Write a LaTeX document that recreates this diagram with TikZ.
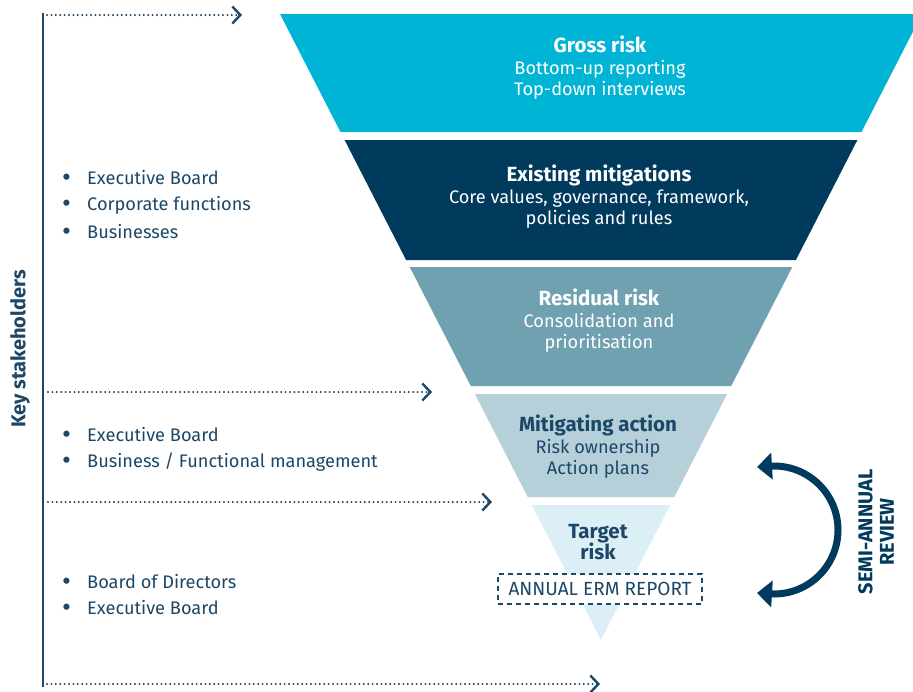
\documentclass[tikz,border=0pt]{standalone}
\usepackage{fontspec}
\setmainfont{Fira Sans}
\usetikzlibrary{arrows.meta}
\definecolor{cyanR}{HTML}{00B4D6}
\definecolor{navyR}{HTML}{003A5C}
\definecolor{tealR}{HTML}{6FA1B1}
\definecolor{paleR}{HTML}{B6D0DA}
\definecolor{lightR}{HTML}{DDEFF6}
\definecolor{inkR}{HTML}{1D4767}
\tikzset{
  ftext/.style={align=center, font=\fontsize{18.2}{21.5}\selectfont, inner sep=0pt},
  item/.style={anchor=west, text=inkR, font=\fontsize{18.2}{20}\selectfont, inner sep=0pt},
  dotarrow/.style={draw=inkR, line width=2.2pt, line cap=round, dash pattern=on 0pt off 4.4pt,
    -{Straight Barb[length=8pt,width=17pt,line width=2.4pt,line cap=butt]}},
}
\newcommand{\bul}{\makebox[25pt][l]{\raisebox{-0.12em}{\scalebox{1.5}{\textbullet}}}}
\newcommand{\hd}[1]{{\fontsize{20.5}{21.5}\selectfont\bfseries #1}}
\begin{document}
\begin{tikzpicture}[x=1pt,y=-1pt]
\useasboundingbox (0,0) rectangle (913,691);
\clip (0,0) rectangle (913,691);
% funnel
\fill[cyanR]  (280,14) -- (922,14) -- (861.5,132) -- (340.5,132) -- cycle;
\fill[navyR]  (344.6,140) -- (857.4,140) -- (795.9,260) -- (406.1,260) -- cycle;
\fill[tealR]  (409.7,267) -- (792.3,267) -- (731.2,386) -- (470.8,386) -- cycle;
\fill[paleR]  (474.9,394) -- (727.1,394) -- (674.3,497) -- (527.7,497) -- cycle;
\fill[lightR] (531.8,505) -- (670.2,505) -- (601,640) -- cycle;
% funnel texts
\node[ftext, text=white] (t1) at (600,68) {\hd{Gross risk}\\Bottom-up reporting\\Top-down interviews};
\node[ftext, text=white] (t2) at (599,197) {\hd{Existing mitigations}\\Core values, governance, framework,\\policies and rules};
\node[ftext, text=white] (t3) at (599,321) {\hd{Residual risk}\\Consolidation and\\prioritisation};
\node[ftext, text=inkR] (t4) at (598,447) {\hd{Mitigating action}\\Risk ownership\\Action plans};
\node[ftext, text=inkR] (t5) at (598,542) {\hd{Target}\\\hd{risk}};
\node[draw=inkR, line width=1.4pt, dash pattern=on 5pt off 4pt, fill=white, text=inkR,
  minimum width=204pt, minimum height=30pt, inner sep=0pt, font=\fontsize{19}{20}\selectfont]
  (erm) at (600,589) {ANNUAL ERM REPORT};
% stakeholder axis
\coordinate (vt) at (43,13);
\coordinate (vb) at (43,687);
\draw[inkR, line width=2.8pt] (vt) -- (vb);
\node[rotate=90, text=inkR, font=\fontsize{20}{20}\selectfont\bfseries] (ks) at (20,349) {Key stakeholders};
\coordinate (a1s) at (47,15);  \coordinate (a1e) at (242,15);
\coordinate (a2s) at (48,392); \coordinate (a2e) at (432,392);
\coordinate (a3s) at (48,502); \coordinate (a3e) at (492,502);
\coordinate (a4s) at (47,684); \coordinate (a4e) at (600,684);
\draw[dotarrow] (a1s) -- (a1e);
\draw[dotarrow] (a2s) -- (a2e);
\draw[dotarrow] (a3s) -- (a3e);
\draw[dotarrow] (a4s) -- (a4e);
% lists
\node[item] (l11) at (62,178) {\bul Executive Board};
\node[item] (l12) at (62,205) {\bul Corporate functions};
\node[item] (l13) at (62,232) {\bul Businesses};
\node[item] (l21) at (62,435) {\bul Executive Board};
\node[item] (l22) at (62,462) {\bul Business / Functional management};
\node[item] (l31) at (62,582) {\bul Board of Directors};
\node[item] (l32) at (62,608) {\bul Executive Board};
% semi-annual review
\coordinate (r1) at (757,467);
\coordinate (r2) at (757,593);
\draw[navyR, line width=7pt, {Triangle[length=15pt,width=26pt]}-{Triangle[length=15pt,width=26pt]}]
  (r1) -- (774,466) arc[start angle=-90, end angle=90, radius=64] -- (r2);
\node[rotate=90, align=center, text=navyR, font=\fontsize{20}{21.5}\selectfont\bfseries] (sr) at (876,532) {SEMI-ANNUAL\\REVIEW};
\end{tikzpicture}
\end{document}
